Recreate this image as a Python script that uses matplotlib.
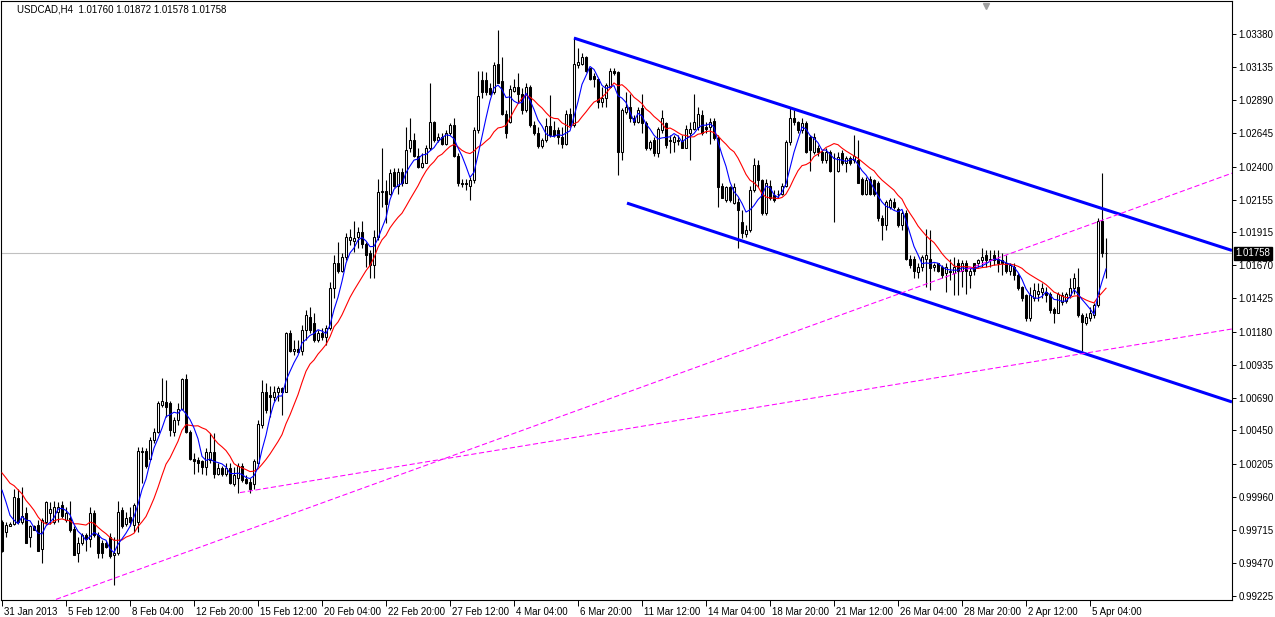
import numpy as np
import pandas as pd
import matplotlib
matplotlib.use("Agg")
import matplotlib.pyplot as plt
import matplotlib.transforms as mtransforms

symbol = "USDCAD,H4"

# H4 candles, oldest first
opens = [
    0.9977, 0.9970, 0.9974, 0.9976, 0.9995, 0.9977, 0.9984, 0.9966, 0.9974, 0.9975,
    0.9957, 0.9977, 0.9984, 0.9977, 0.9985, 0.9990, 0.9979, 0.9980, 0.9972, 0.9954,
    0.9962, 0.9968, 0.9965, 0.9984, 0.9968, 0.9962, 0.9962, 0.9966, 0.9953, 0.9954,
    0.9986, 0.9976, 0.9981, 0.9975, 0.9977, 1.0030, 1.0030, 1.0024, 1.0038, 1.0044,
    1.0064, 1.0066, 1.0065, 1.0044, 1.0053, 1.0061, 1.0083, 1.0044, 1.0024, 1.0023,
    1.0022, 1.0018, 1.0023, 1.0029, 1.0013, 1.0017, 1.0013, 1.0017, 1.0005, 1.0010,
    1.0019, 1.0009, 1.0007, 1.0005, 1.0021, 1.0049, 1.0073, 1.0071, 1.0070, 1.0073,
    1.0076, 1.0073, 1.0117, 1.0104, 1.0105, 1.0104, 1.0119, 1.0129, 1.0124, 1.0112,
    1.0117, 1.0114, 1.0121, 1.0150, 1.0169, 1.0163, 1.0173, 1.0186, 1.0185, 1.0188,
    1.0192, 1.0183, 1.0176, 1.0167, 1.0188, 1.0221, 1.0222, 1.0220, 1.0236, 1.0226,
    1.0236, 1.0228, 1.0254, 1.0260, 1.0248, 1.0240, 1.0243, 1.0254, 1.0273, 1.0260,
    1.0262, 1.0257, 1.0265, 1.0271, 1.0248, 1.0228, 1.0228, 1.0226, 1.0230, 1.0267,
    1.0304, 1.0304, 1.0298, 1.0295, 1.0316, 1.0303, 1.0279, 1.0273, 1.0296, 1.0299,
    1.0294, 1.0282, 1.0299, 1.0271, 1.0265, 1.0255, 1.0260, 1.0270, 1.0267, 1.0267,
    1.0262, 1.0257, 1.0279, 1.0271, 1.0315, 1.0316, 1.0321, 1.0313, 1.0307, 1.0305,
    1.0288, 1.0291, 1.0299, 1.0311, 1.0310, 1.0251, 1.0280, 1.0284, 1.0276, 1.0273,
    1.0283, 1.0272, 1.0254, 1.0260, 1.0250, 1.0267, 1.0272, 1.0259, 1.0258, 1.0260,
    1.0259, 1.0254, 1.0265, 1.0268, 1.0269, 1.0278, 1.0269, 1.0269, 1.0274, 1.0261,
    1.0226, 1.0215, 1.0225, 1.0213, 1.0214, 1.0199, 1.0190, 1.0193, 1.0223, 1.0241,
    1.0230, 1.0206, 1.0226, 1.0219, 1.0220, 1.0220, 1.0226, 1.0258, 1.0276, 1.0273,
    1.0267, 1.0272, 1.0262, 1.0251, 1.0254, 1.0251, 1.0245, 1.0251, 1.0246, 1.0237,
    1.0250, 1.0243, 1.0246, 1.0245, 1.0245, 1.0231, 1.0220, 1.0231, 1.0230, 1.0228,
    1.0202, 1.0197, 1.0210, 1.0214, 1.0209, 1.0197, 1.0206, 1.0172, 1.0172, 1.0162,
    1.0166, 1.0172, 1.0172, 1.0166, 1.0169, 1.0166, 1.0161, 1.0163, 1.0161, 1.0169,
    1.0163, 1.0169, 1.0160, 1.0169, 1.0169, 1.0171, 1.0175, 1.0171, 1.0175, 1.0172,
    1.0171, 1.0169, 1.0163, 1.0166, 1.0160, 1.0151, 1.0145, 1.0128, 1.0143, 1.0146,
    1.0147, 1.0147, 1.0146, 1.0135, 1.0132, 1.0140, 1.0141, 1.0145, 1.0150, 1.0151,
    1.0130, 1.0124, 1.0128, 1.0130, 1.0138, 1.0200, 1.01760,
]
highs = [
    0.9979, 0.9977, 0.9977, 1.0002, 1.0002, 1.0003, 0.9988, 0.9975, 0.9975, 0.9979,
    0.9980, 0.9993, 0.9992, 0.9993, 0.9992, 0.9993, 0.9988, 0.9993, 0.9974, 0.9966,
    0.9969, 0.9969, 0.9988, 0.9986, 0.9970, 0.9964, 0.9963, 0.9969, 0.9966, 0.9993,
    0.9988, 0.9985, 0.9988, 0.9991, 1.0033, 1.0033, 1.0032, 1.0040, 1.0047, 1.0067,
    1.0084, 1.0082, 1.0067, 1.0055, 1.0065, 1.0084, 1.0087, 1.0045, 1.0028, 1.0025,
    1.0023, 1.0032, 1.0043, 1.0043, 1.0021, 1.0019, 1.0021, 1.0021, 1.0018, 1.0021,
    1.0021, 1.0012, 1.0010, 1.0024, 1.0053, 1.0082, 1.0080, 1.0078, 1.0078, 1.0078,
    1.0077, 1.0118, 1.0119, 1.0112, 1.0112, 1.0123, 1.0134, 1.0136, 1.0132, 1.0119,
    1.0121, 1.0123, 1.0155, 1.0175, 1.0184, 1.0176, 1.0191, 1.0194, 1.0200, 1.0195,
    1.0200, 1.0184, 1.0178, 1.0193, 1.0231, 1.0254, 1.0230, 1.0238, 1.0239, 1.0239,
    1.0239, 1.0269, 1.0276, 1.0265, 1.0254, 1.0250, 1.0256, 1.0302, 1.0274, 1.0265,
    1.0265, 1.0267, 1.0272, 1.0276, 1.0250, 1.0231, 1.0231, 1.0232, 1.0269, 1.0311,
    1.0311, 1.0310, 1.0302, 1.0317, 1.0341, 1.0321, 1.0282, 1.0300, 1.0305, 1.0309,
    1.0298, 1.0302, 1.0300, 1.0274, 1.0269, 1.0261, 1.0276, 1.0293, 1.0274, 1.0269,
    1.0269, 1.0282, 1.0283, 1.0336, 1.0328, 1.0324, 1.0322, 1.0313, 1.0309, 1.0305,
    1.0299, 1.0302, 1.0313, 1.0313, 1.0311, 1.0283, 1.0295, 1.0294, 1.0278, 1.0284,
    1.0294, 1.0274, 1.0260, 1.0262, 1.0269, 1.0282, 1.0273, 1.0263, 1.0263, 1.0263,
    1.0263, 1.0271, 1.0273, 1.0294, 1.0284, 1.0282, 1.0273, 1.0276, 1.0276, 1.0263,
    1.0228, 1.0226, 1.0226, 1.0228, 1.0217, 1.0208, 1.0197, 1.0226, 1.0246, 1.0245,
    1.0231, 1.0231, 1.0230, 1.0223, 1.0223, 1.0228, 1.0260, 1.0283, 1.0282, 1.0274,
    1.0276, 1.0274, 1.0263, 1.0265, 1.0256, 1.0252, 1.0254, 1.0252, 1.0250, 1.0251,
    1.0252, 1.0248, 1.0248, 1.0263, 1.0260, 1.0232, 1.0232, 1.0233, 1.0231, 1.0229,
    1.0204, 1.0215, 1.0217, 1.0217, 1.0210, 1.0208, 1.0208, 1.0175, 1.0174, 1.0169,
    1.0175, 1.0194, 1.0193, 1.0169, 1.0169, 1.0167, 1.0169, 1.0172, 1.0173, 1.0172,
    1.0171, 1.0171, 1.0165, 1.0169, 1.0172, 1.0180, 1.0178, 1.0178, 1.0178, 1.0178,
    1.0176, 1.0175, 1.0169, 1.0169, 1.0161, 1.0152, 1.0146, 1.0151, 1.0154, 1.0154,
    1.0154, 1.0151, 1.0147, 1.0136, 1.0147, 1.0147, 1.0147, 1.0158, 1.0161, 1.0165,
    1.0132, 1.0132, 1.0136, 1.0139, 1.0202, 1.0235, 1.01872,
]
lows = [
    0.9955, 0.9966, 0.9974, 0.9975, 0.9976, 0.9976, 0.9962, 0.9959, 0.9971, 0.9956,
    0.9947, 0.9976, 0.9976, 0.9976, 0.9977, 0.9980, 0.9977, 0.9970, 0.9953, 0.9948,
    0.9960, 0.9956, 0.9959, 0.9966, 0.9951, 0.9951, 0.9958, 0.9951, 0.9931, 0.9953,
    0.9973, 0.9974, 0.9974, 0.9970, 0.9970, 1.0006, 1.0017, 1.0023, 1.0036, 1.0043,
    1.0062, 1.0055, 1.0041, 1.0041, 1.0049, 1.0060, 1.0043, 1.0023, 1.0013, 1.0014,
    1.0013, 1.0012, 1.0021, 1.0010, 1.0012, 1.0011, 1.0011, 1.0005, 1.0004, 0.9999,
    1.0007, 1.0005, 0.9999, 1.0002, 1.0019, 1.0047, 1.0058, 1.0055, 1.0067, 1.0067,
    1.0056, 1.0073, 1.0103, 1.0101, 1.0102, 1.0101, 1.0112, 1.0117, 1.0110, 1.0110,
    1.0112, 1.0108, 1.0119, 1.0143, 1.0161, 1.0162, 1.0171, 1.0182, 1.0177, 1.0180,
    1.0180, 1.0166, 1.0158, 1.0158, 1.0186, 1.0210, 1.0198, 1.0219, 1.0225, 1.0220,
    1.0226, 1.0228, 1.0251, 1.0247, 1.0239, 1.0239, 1.0243, 1.0252, 1.0258, 1.0258,
    1.0256, 1.0256, 1.0263, 1.0247, 1.0226, 1.0225, 1.0223, 1.0215, 1.0228, 1.0265,
    1.0291, 1.0293, 1.0293, 1.0294, 1.0302, 1.0278, 1.0261, 1.0272, 1.0295, 1.0287,
    1.0279, 1.0280, 1.0269, 1.0263, 1.0254, 1.0254, 1.0258, 1.0262, 1.0262, 1.0257,
    1.0254, 1.0256, 1.0269, 1.0269, 1.0313, 1.0315, 1.0310, 1.0304, 1.0299, 1.0283,
    1.0284, 1.0284, 1.0298, 1.0308, 1.0234, 1.0245, 1.0279, 1.0273, 1.0271, 1.0272,
    1.0265, 1.0252, 1.0252, 1.0248, 1.0247, 1.0265, 1.0254, 1.0250, 1.0251, 1.0256,
    1.0254, 1.0254, 1.0245, 1.0267, 1.0267, 1.0263, 1.0265, 1.0257, 1.0260, 1.0210,
    1.0217, 1.0214, 1.0214, 1.0212, 1.0180, 1.0187, 1.0188, 1.0192, 1.0221, 1.0225,
    1.0204, 1.0204, 1.0215, 1.0214, 1.0217, 1.0219, 1.0225, 1.0256, 1.0271, 1.0265,
    1.0265, 1.0250, 1.0237, 1.0249, 1.0248, 1.0243, 1.0243, 1.0236, 1.0199, 1.0236,
    1.0241, 1.0236, 1.0241, 1.0243, 1.0228, 1.0219, 1.0219, 1.0219, 1.0218, 1.0200,
    1.0186, 1.0193, 1.0209, 1.0209, 1.0195, 1.0193, 1.0171, 1.0165, 1.0158, 1.0158,
    1.0163, 1.0151, 1.0149, 1.0163, 1.0162, 1.0158, 1.0147, 1.0156, 1.0145, 1.0145,
    1.0151, 1.0146, 1.0150, 1.0160, 1.0166, 1.0166, 1.0166, 1.0166, 1.0167, 1.0162,
    1.0160, 1.0161, 1.0160, 1.0156, 1.0149, 1.0141, 1.0126, 1.0126, 1.0141, 1.0141,
    1.0143, 1.0140, 1.0132, 1.0124, 1.0132, 1.0138, 1.0139, 1.0143, 1.0146, 1.0129,
    1.0104, 1.0123, 1.0126, 1.0128, 1.0136, 1.0173, 1.01578,
]
closes = [
    0.9956, 0.9975, 0.9976, 0.9996, 0.9977, 0.9982, 0.9962, 0.9974, 0.9971, 0.9956,
    0.9979, 0.9992, 0.9987, 0.9988, 0.9988, 0.9982, 0.9984, 0.9971, 0.9953, 0.9962,
    0.9968, 0.9965, 0.9984, 0.9968, 0.9954, 0.9954, 0.9959, 0.9952, 0.9954, 0.9985,
    0.9974, 0.9980, 0.9977, 0.9990, 1.0030, 1.0029, 1.0019, 1.0038, 1.0044, 1.0065,
    1.0067, 1.0062, 1.0045, 1.0053, 1.0061, 1.0083, 1.0044, 1.0024, 1.0022, 1.0021,
    1.0018, 1.0029, 1.0029, 1.0013, 1.0017, 1.0013, 1.0017, 1.0006, 1.0012, 1.0019,
    1.0008, 1.0006, 1.0002, 1.0022, 1.0050, 1.0073, 1.0060, 1.0070, 1.0073, 1.0076,
    1.0073, 1.0117, 1.0104, 1.0105, 1.0103, 1.0119, 1.0130, 1.0119, 1.0112, 1.0117,
    1.0114, 1.0121, 1.0150, 1.0169, 1.0163, 1.0173, 1.0188, 1.0188, 1.0187, 1.0192,
    1.0183, 1.0175, 1.0167, 1.0188, 1.0221, 1.0222, 1.0212, 1.0235, 1.0226, 1.0236,
    1.0228, 1.0252, 1.0260, 1.0248, 1.0240, 1.0243, 1.0254, 1.0273, 1.0260, 1.0262,
    1.0257, 1.0265, 1.0271, 1.0248, 1.0228, 1.0227, 1.0227, 1.0230, 1.0267, 1.0292,
    1.0295, 1.0295, 1.0294, 1.0315, 1.0302, 1.0279, 1.0265, 1.0297, 1.0299, 1.0294,
    1.0282, 1.0299, 1.0271, 1.0265, 1.0255, 1.0260, 1.0270, 1.0263, 1.0263, 1.0262,
    1.0257, 1.0279, 1.0271, 1.0316, 1.0317, 1.0321, 1.0311, 1.0305, 1.0305, 1.0288,
    1.0291, 1.0300, 1.0311, 1.0309, 1.0251, 1.0282, 1.0284, 1.0276, 1.0273, 1.0282,
    1.0272, 1.0254, 1.0258, 1.0250, 1.0268, 1.0276, 1.0256, 1.0260, 1.0262, 1.0259,
    1.0254, 1.0268, 1.0268, 1.0273, 1.0279, 1.0265, 1.0268, 1.0273, 1.0261, 1.0225,
    1.0217, 1.0225, 1.0215, 1.0225, 1.0208, 1.0191, 1.0193, 1.0223, 1.0241, 1.0230,
    1.0206, 1.0228, 1.0217, 1.0215, 1.0220, 1.0226, 1.0258, 1.0276, 1.0273, 1.0267,
    1.0272, 1.0251, 1.0252, 1.0262, 1.0251, 1.0245, 1.0251, 1.0237, 1.0246, 1.0247,
    1.0243, 1.0246, 1.0243, 1.0248, 1.0228, 1.0220, 1.0230, 1.0220, 1.0220, 1.0202,
    1.0197, 1.0214, 1.0215, 1.0210, 1.0197, 1.0206, 1.0172, 1.0167, 1.0163, 1.0166,
    1.0173, 1.0175, 1.0165, 1.0167, 1.0163, 1.0160, 1.0166, 1.0162, 1.0166, 1.0163,
    1.0169, 1.0163, 1.0163, 1.0163, 1.0171, 1.0173, 1.0171, 1.0172, 1.0171, 1.0169,
    1.0169, 1.0163, 1.0167, 1.0160, 1.0150, 1.0143, 1.0128, 1.0145, 1.0149, 1.0148,
    1.0150, 1.0145, 1.0134, 1.0132, 1.0146, 1.0145, 1.0146, 1.0150, 1.0158, 1.0130,
    1.0125, 1.0129, 1.0132, 1.0138, 1.0200, 1.0176, 1.01758,
]
# closes before the first visible bar (only feed the moving averages)
warmup_closes = [1.0023, 1.0027, 1.0019, 1.0016, 1.0022, 1.0025,
                 1.0019, 1.0021, 1.0019, 1.0025, 1.0014, 0.9990]

fast_period = 5
slow_period = 13

date_labels = ["31 Jan 2013", "5 Feb 12:00", "8 Feb 04:00", "12 Feb 20:00",
               "15 Feb 12:00", "20 Feb 04:00", "22 Feb 20:00", "27 Feb 12:00",
               "4 Mar 04:00", "6 Mar 20:00", "11 Mar 12:00", "14 Mar 04:00",
               "18 Mar 20:00", "21 Mar 12:00", "26 Mar 04:00", "28 Mar 20:00",
               "2 Apr 12:00", "5 Apr 04:00"]
bars_per_label = 16

price_ticks = [1.03380, 1.03135, 1.02890, 1.02645, 1.02400, 1.02155, 1.01915,
               1.01670, 1.01425, 1.01180, 1.00935, 1.00690, 1.00450, 1.00205,
               0.99960, 0.99715, 0.99470, 0.99225]

# drawn objects: (bar index, price) anchor pairs
channel_top = [(143.0, 1.0335), (307.5, 1.0178)]
channel_bottom = [(156.25, 1.0213), (307.5, 1.0066)]
fan_long = [(28.0, 0.99356), (268.0, 1.01928)]
fan_short = [(59.5, 0.9999), (300.0, 1.01163)]
shift_marker_bar = 246

plt.rcParams['font.family'] = ['Liberation Sans', 'DejaVu Sans']

o = np.array(opens)
h = np.array(highs)
l = np.array(lows)
c = np.array(closes)
assert len(o) == len(h) == len(l) == len(c)
idx = np.arange(len(c))

all_c = pd.Series(warmup_closes + closes)
ma_fast = all_c.rolling(fast_period).mean().to_numpy()[len(warmup_closes):]
ma_slow = all_c.rolling(slow_period).mean().to_numpy()[len(warmup_closes):]

fig = plt.figure(figsize=(12.75, 6.17), dpi=100)
ax = fig.add_axes([1 / 1275, 17 / 617, 1231 / 1275, 599 / 617])
x_lo, x_hi = -0.25, 307.5
ax.set_xlim(x_lo, x_hi)
ax.set_ylim(0.99196, 1.03624)

def line_at(pts, xs):
    (x1, y1), (x2, y2) = pts
    return y1 + (y2 - y1) / (x2 - x1) * (np.asarray(xs) - x1)

# last price line
ax.axhline(c[-1], color="#c0c0c0", lw=0.8, zorder=1)

# candles
ax.vlines(idx, l, h, color="black", lw=0.8, zorder=2)
up = c >= o
body_w = 0.58
ax.bar(idx[up], np.maximum(c - o, 1e-6)[up], bottom=o[up], width=body_w,
       facecolor="white", edgecolor="black", lw=0.75, zorder=3)
ax.bar(idx[~up], (o - c)[~up], bottom=c[~up], width=body_w,
       facecolor="black", edgecolor="black", lw=0.75, zorder=3)

# moving averages
ax.plot(idx, ma_slow, color="red", lw=0.8, zorder=4)
ax.plot(idx, ma_fast, color="blue", lw=0.8, zorder=4)

# channel
for pts in (channel_top, channel_bottom):
    xs = np.array([pts[0][0], x_hi])
    ax.plot(xs, line_at(pts, xs), color="#0000ff", lw=2.2, zorder=5,
            solid_capstyle="butt")

# magenta fan lines
xs = np.array([x_lo, x_hi])
ax.plot(xs, line_at(fan_long, xs), color="#ff00ff", lw=0.75, zorder=5,
        dashes=(5, 2.5))
xs = np.array([fan_short[0][0], x_hi])
ax.plot(xs, line_at(fan_short, xs), color="#ff00ff", lw=0.75, zorder=5,
        dashes=(5, 2.5))

# chart shift marker on the top edge
trans_top = mtransforms.blended_transform_factory(ax.transData, ax.transAxes)
ax.plot([shift_marker_bar], [0.992], marker="v", ms=5, color="#a0a0a0",
        transform=trans_top, clip_on=False, zorder=6)

# axes look
for sp in ax.spines.values():
    sp.set_color("black")
    sp.set_linewidth(0.8)
ax.yaxis.tick_right()
ax.set_yticks(price_ticks)
ax.set_yticklabels(["%.5f" % p for p in price_ticks])
ax.tick_params(axis="y", direction="out", length=3, width=0.7, pad=1.5,
               labelsize=7, colors="black")

tick_pos = np.arange(len(date_labels)) * bars_per_label
ax.set_xticks(tick_pos)
ax.set_xticklabels(date_labels, ha="left")
ax.tick_params(axis="x", direction="out", length=4, width=0.7, pad=1,
               labelsize=7, colors="black")
shift = mtransforms.ScaledTranslation(1.5 / 72, 0, fig.dpi_scale_trans)
for lab in ax.get_xticklabels():
    lab.set_transform(lab.get_transform() + shift)

# current price box on the price scale
trans_right = mtransforms.blended_transform_factory(ax.transAxes, ax.transData)
ax.text(1.003, c[-1], "%.5f" % c[-1], transform=trans_right, ha="left",
        va="center", fontsize=7, color="white", zorder=7,
        bbox=dict(boxstyle="square,pad=0.15", fc="black", ec="black"))

fig.text(17 / 1275, 1 - 9 / 617,
         "%s  %.5f %.5f %.5f %.5f" % (symbol, o[-1], h[-1], l[-1], c[-1]),
         fontsize=7, va="center", ha="left", color="black")

fig.savefig("out.png", dpi=100)
